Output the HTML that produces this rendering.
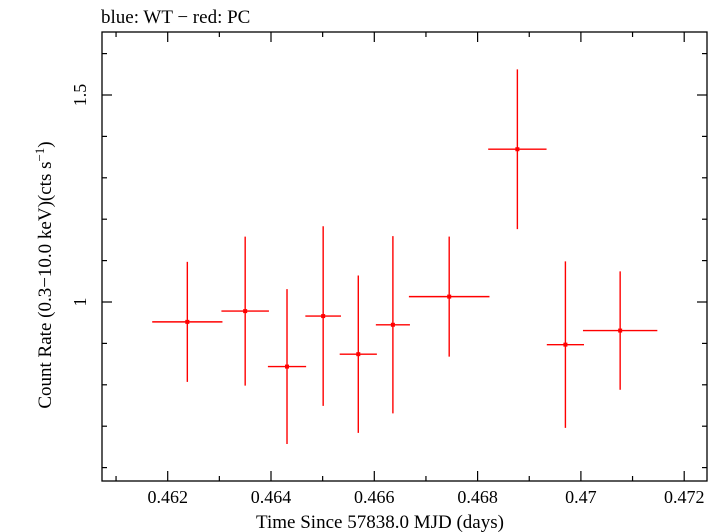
<!DOCTYPE html>
<html><head><meta charset="utf-8"><style>
html,body{margin:0;padding:0;background:#fff;}
svg{display:block;font-family:"Liberation Serif",serif;}
</style></head><body>
<svg id="chart" width="721" height="532" viewBox="0 0 721 532">
<text x="101" y="23" font-size="19">blue: WT − red: PC</text>
<rect x="102" y="32" width="605" height="449" fill="none" stroke="#000" stroke-width="1.3"/>
<g id="ticks"></g>
<g id="marks"></g>
<text x="380" y="528" font-size="19" text-anchor="middle">Time Since 57838.0 MJD (days)</text>
<text transform="translate(51,275) rotate(-90)" font-size="19" text-anchor="middle">Count Rate (0.3−10.0 keV)(cts s<tspan font-size="13" dy="-7">−1</tspan><tspan dy="7">)</tspan></text>
</svg>
<script>
const times=[0.46238,0.46350,0.46431,0.46501,0.46569,0.46636,0.46745,0.46877,0.46970,0.47076];
const halfWidths=[0.00068,0.00046,0.00037,0.000345,0.00036,0.00033,0.00078,0.000565,0.00036,0.00072];
const rates=[0.952,0.978,0.844,0.966,0.874,0.945,1.013,1.369,0.897,0.931];
const errors=[0.145,0.180,0.187,0.217,0.190,0.214,0.145,0.193,0.201,0.143];
const xMajor=[0.462,0.464,0.466,0.468,0.470,0.472];
const xMajorLabels=["0.462","0.464","0.466","0.468","0.47","0.472"];
const yMajor=[1.0,1.5];
const yMajorLabels=["1","1.5"];
const NS="http://www.w3.org/2000/svg";
const L=102,R=707,T=32,B=481;
function X(t){return 167.7+(t-0.462)*51650;}
function Y(v){return 302-(v-1)*414;}
function mk(tag,attrs,parent){const e=document.createElementNS(NS,tag);for(const k in attrs)e.setAttribute(k,attrs[k]);parent.appendChild(e);return e;}
const tg=document.getElementById('ticks');
for(let i=0;i<=11;i++){const t=0.461+i*0.001;const x=X(t);if(x<L||x>R)continue;
 const major=xMajor.some(m=>Math.abs(m-t)<1e-7);const len=major?10:5;
 const a=mk('line',{x1:x,x2:x,y1:B,y2:B-len,stroke:'#000','stroke-width':1.2},tg);
 
 
 const b=mk('line',{x1:x,x2:x,y1:T,y2:T+len,stroke:'#000','stroke-width':1.2},tg);
 
 }
xMajor.forEach((t,i)=>{const e=mk('text',{x:X(t),y:503,'font-size':18,'text-anchor':'middle'},tg);e.textContent=xMajorLabels[i];
 
 });
for(let i=0;i<=10;i++){const v=0.6+i*0.1;const y=Y(v);
 const major=yMajor.some(m=>Math.abs(m-v)<1e-7);const len=major?10:5;
 const a=mk('line',{x1:L,x2:L+len,y1:y,y2:y,stroke:'#000','stroke-width':1.2},tg);
 
 
 const b=mk('line',{x1:R,x2:R-len,y1:y,y2:y,stroke:'#000','stroke-width':1.2},tg);
 
 }
yMajor.forEach((v,i)=>{const e=mk('text',{transform:`translate(86,${Y(v)}) rotate(-90)`,'font-size':18,'text-anchor':'middle'},tg);e.textContent=yMajorLabels[i];
 
 });
const mg=document.getElementById('marks');
times.forEach((t,i)=>{const g=mk('g',{stroke:'#ff0000','stroke-width':1.4},mg);
 
 
 mk('line',{x1:X(t-halfWidths[i]),x2:X(t+halfWidths[i]),y1:Y(rates[i]),y2:Y(rates[i])},g);
 mk('line',{x1:X(t),x2:X(t),y1:Y(rates[i]+errors[i]),y2:Y(rates[i]-errors[i])},g);
 mk('rect',{x:X(t)-2,y:Y(rates[i])-2,width:4,height:4,fill:'#ff0000',stroke:'none'},g);});
</script>
</body></html>
